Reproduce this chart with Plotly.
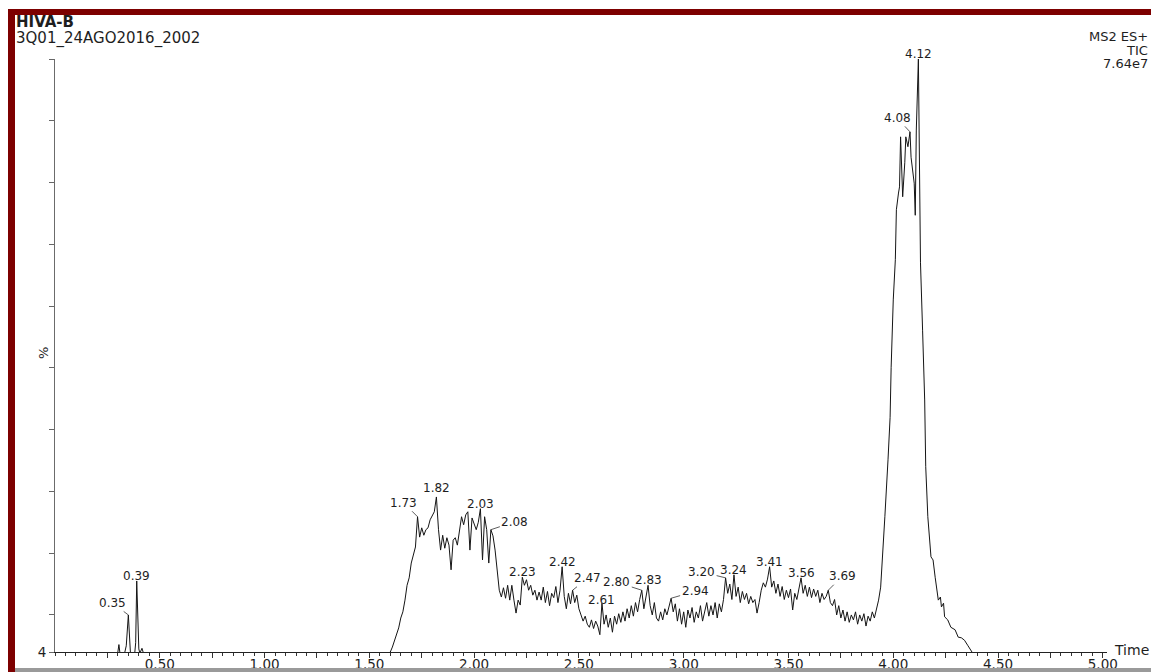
import plotly.graph_objects as go

# ---------------- TIC chromatogram (% of base peak, 7.64e7) ----------------
# early small peaks
early_time = [0.28, 0.30, 0.305, 0.31, 0.33, 0.34, 0.35, 0.36, 0.38, 0.385, 0.39, 0.40, 0.405, 0.415, 0.425]
early_tic = [3.0, 4.0, 5.2, 3.8, 3.5, 5.0, 10.0, 3.8, 3.6, 5.5, 15.5, 4.5, 3.8, 4.6, 3.5]

# broad elution region, one scan every 0.01 min starting at 1.55 min
mid_start = 1.55
mid_step = 0.01
mid_tic = [
    3.0, 3.2, 3.4, 3.5, 3.8,                                 # 1.55-1.59
    4.0, 4.8, 5.9, 7.1, 7.9, 9.5, 10.5, 12.4, 14.8, 16.0,    # 1.60-1.69
    18.4, 19.7, 21.0, 25.9, 22.6, 24.1, 22.9, 23.8, 24.1, 25.4,  # 1.70-1.79
    26.2, 26.7, 29.1, 23.8, 20.5, 22.9, 20.8, 22.5, 21.3, 17.3,  # 1.80-1.89
    22.1, 22.5, 21.3, 23.4, 25.9, 24.6, 26.2, 26.7, 20.5, 25.7,  # 1.90-1.99
    24.6, 23.8, 25.0, 27.2, 18.9, 25.9, 23.8, 18.4, 23.8, 22.8,  # 2.00-2.09
    20.5, 17.6, 14.0, 12.9, 14.4, 12.7, 14.8, 12.4, 14.8, 12.4,  # 2.10-2.19
    10.3, 12.4, 11.6, 16.1, 14.8, 15.7, 14.0, 14.8, 13.2, 14.0,  # 2.20-2.29
    12.4, 13.7, 12.4, 14.5, 12.0, 13.8, 11.5, 13.5, 12.8, 14.6,  # 2.30-2.39
    12.0, 14.0, 17.8, 13.0, 11.0, 13.5, 11.8, 14.0, 12.0, 13.2,  # 2.40-2.49
    11.0, 10.0, 9.0, 9.8, 8.5, 8.0, 9.2, 7.8, 9.0, 8.2,          # 2.50-2.59
    6.8, 11.9, 8.5, 10.0, 8.0, 9.5, 7.2, 9.8, 8.5, 10.2,         # 2.60-2.69
    8.8, 10.5, 9.0, 11.0, 9.5, 11.5, 9.8, 12.0, 10.5, 12.5,      # 2.70-2.79
    14.0, 11.0, 13.0, 14.8, 11.5, 10.0, 12.0, 9.5, 9.0, 10.5,    # 2.80-2.89
    9.2, 11.0, 10.0, 11.5, 12.7, 10.5, 11.8, 9.0, 11.0, 8.5,     # 2.90-2.99
    10.5, 8.0, 10.8, 9.5, 11.2, 8.8, 10.5, 9.5, 11.5, 9.0,       # 3.00-3.09
    10.8, 12.0, 9.8, 11.5, 10.0, 12.0, 9.5, 11.8, 10.5, 12.5,    # 3.10-3.19
    16.0, 13.5, 15.0, 12.5, 16.5, 13.0, 14.5, 12.0, 13.8, 12.5,  # 3.20-3.29
    13.5, 11.8, 13.0, 12.0, 12.5, 10.3, 12.0, 14.0, 15.2, 14.5,  # 3.30-3.39
    15.8, 17.8, 14.5, 15.5, 13.5, 15.0, 13.0, 14.6, 12.5, 14.0,  # 3.40-3.49
    12.8, 14.2, 10.8, 13.5, 12.5, 14.5, 16.0, 13.5, 14.8, 13.0,  # 3.50-3.59
    14.5, 12.8, 14.2, 13.0, 14.0, 12.0, 13.5, 12.5, 13.0, 14.0,  # 3.60-3.69
    12.0, 11.5, 12.5, 10.0, 11.5, 9.5, 10.8, 9.0, 10.5, 8.8,     # 3.70-3.79
    10.0, 9.2, 10.5, 8.5, 10.0, 9.0, 10.2, 8.2, 9.8, 9.0,        # 3.80-3.89
    10.5, 9.5, 11.0, 12.4,                                      # 3.90-3.93
]
mid_time = [round(mid_start + mid_step * i, 2) for i in range(len(mid_tic))]

# main peak, denser scans
peak_time = [3.94, 3.95, 3.96, 3.975, 3.985, 3.99, 4.00, 4.01, 4.015, 4.025,
             4.03, 4.035, 4.045, 4.055, 4.06, 4.07, 4.08, 4.085, 4.095, 4.10,
             4.105, 4.11, 4.12, 4.125, 4.13, 4.14, 4.15, 4.155, 4.165, 4.18,
             4.19, 4.20, 4.215, 4.225, 4.23, 4.24, 4.245, 4.26, 4.275, 4.295,
             4.31, 4.325, 4.34, 4.355, 4.37, 4.385]
peak_tic = [14.5, 19.4, 25.9, 35.1, 42.0, 50.1, 61.0, 67.5, 75.6, 78.3,
            79.3, 87.4, 77.7, 83.2, 87.4, 85.8, 88.2, 84.1, 81.5, 79.9,
            74.7, 88.5, 100.0, 75.1, 67.0, 56.1, 44.8, 34.0, 25.9, 19.4,
            18.9, 16.1, 12.4, 12.9, 11.3, 11.9, 9.7, 9.2, 8.0, 7.6,
            6.4, 6.3, 5.9, 5.1, 4.3, 3.5]

# retention times that carry a peak label
peak_labels = ["0.35", "0.39", "1.73", "1.82", "2.03", "2.08", "2.23", "2.42", "2.47",
               "2.61", "2.80", "2.83", "2.94", "3.20", "3.24", "3.41", "3.56", "3.69",
               "4.08", "4.12"]

# x-axis labelling
x_tick_vals = [0.25 * k for k in range(1, 21)]
x_tick_text = [f"{v:.2f}" if k % 2 == 0 else "" for k, v in enumerate(x_tick_vals, start=1)]
y_tick_vals = [4] + [10 * k for k in range(1, 11)]
y_tick_text = ["4"] + [""] * 10

# ---------------- assemble ----------------
times = early_time + mid_time + peak_time
tic = early_tic + mid_tic + peak_tic
lookup = {round(t, 3): v for t, v in zip(times, tic)}

W, H = 1151, 672
ML, MR, MT, MB = 55, 44, 59, 20
PW, PH = W - ML - MR, H - MT - MB


def xp(px):
    return (px - ML) / PW


def yp(py):
    return (H - MB - py) / PH


FONT = "DejaVu Sans"
INK = "#1e1e1e"

fig = go.Figure()
fig.add_trace(go.Scatter(x=times, y=tic, mode="lines",
                         line=dict(color="#151515", width=1),
                         hoverinfo="skip", showlegend=False))

# leader-line offsets (pixels) for labels set beside their peak
leaders = {"0.35": (-16, -12), "1.73": (-14, -14), "2.08": (24, -8),
           "2.47": (15, -12), "2.80": (-25, -8), "2.94": (24, -7),
           "3.20": (-24, -6), "3.69": (14, -14), "4.08": (-13, -14)}
# vertical nudge for labels sitting straight above their peak
label_shift = {"1.82": 0, "2.61": -6}

annotations = []
for lab in peak_labels:
    t = float(lab)
    v = lookup[round(t, 3)]
    if lab in leaders:
        ax, ay = leaders[lab]
        annotations.append(dict(x=t, y=v, xref="x", yref="y", text=lab,
                                showarrow=True, arrowhead=0, arrowwidth=0.8,
                                arrowcolor="#333", ax=ax, ay=ay, standoff=0,
                                font=dict(family=FONT, size=12, color=INK)))
    else:
        annotations.append(dict(x=t, y=v, xref="x", yref="y", text=lab,
                                showarrow=False, yanchor="bottom",
                                yshift=label_shift.get(lab, -4),
                                font=dict(family=FONT, size=12, color=INK)))

header = [
    dict(text="<b>HIVA-B</b>", x=xp(15), y=yp(22), xanchor="left", size=15),
    dict(text="3Q01_24AGO2016_2002", x=xp(15), y=yp(38.5), xanchor="left", size=15),
    dict(text="MS2 ES+", x=xp(1149), y=yp(36.5), xanchor="right", size=13),
    dict(text="TIC", x=xp(1149), y=yp(50), xanchor="right", size=13),
    dict(text="7.64e7", x=xp(1149), y=yp(64), xanchor="right", size=13),
    dict(text="Time", x=xp(1113), y=yp(650), xanchor="left", size=14),
]
for h in header:
    size = h.pop("size")
    annotations.append(dict(xref="paper", yref="paper", yanchor="middle",
                            showarrow=False, borderpad=0,
                            font=dict(family=FONT, size=size, color=INK), **h))
annotations.append(dict(text="%", x=xp(43), y=yp(353), xref="paper", yref="paper",
                        textangle=-90, showarrow=False, xanchor="center",
                        yanchor="middle", font=dict(family=FONT, size=13, color=INK)))

# dark red frame at top/left and grey strip along the bottom
RED = "#7d0000"
shapes = [
    dict(type="rect", xref="paper", yref="paper", x0=xp(8), x1=xp(W + 5),
         y0=yp(15), y1=yp(9), fillcolor=RED, line=dict(width=0), layer="above"),
    dict(type="rect", xref="paper", yref="paper", x0=xp(8), x1=xp(15),
         y0=yp(H + 5), y1=yp(9), fillcolor=RED, line=dict(width=0), layer="above"),
    dict(type="rect", xref="paper", yref="paper", x0=xp(15), x1=xp(W + 5),
         y0=yp(H + 5), y1=yp(668), fillcolor="#9a9a9a", line=dict(width=0), layer="above"),
]

fig.update_layout(
    width=W, height=H,
    margin=dict(l=ML, r=MR, t=MT, b=MB, pad=0),
    paper_bgcolor="white", plot_bgcolor="white",
    showlegend=False,
    annotations=annotations,
    shapes=shapes,
    xaxis=dict(range=[0, 5.02], tickmode="array", tickvals=x_tick_vals,
               ticktext=x_tick_text, ticks="outside", ticklen=5, tickwidth=1,
               tickcolor="#333", showline=True, linecolor="#222", linewidth=1,
               showgrid=False, zeroline=False, automargin=False,
               ticklabelstandoff=-5,
               tickfont=dict(family=FONT, size=13.5, color=INK),
               minor=dict(tickmode="linear", tick0=0, dtick=0.05, ticks="outside",
                          ticklen=3, tickcolor="#333", showgrid=False)),
    yaxis=dict(range=[4, 100], tickmode="array", tickvals=y_tick_vals,
               ticktext=y_tick_text, ticks="outside", ticklen=5, tickwidth=1,
               tickcolor="#666", showline=True, linecolor="#6b6b6b", linewidth=1,
               showgrid=False, zeroline=False, automargin=False,
               tickfont=dict(family=FONT, size=13.5, color=INK)),
)

fig.write_html("out.html")
